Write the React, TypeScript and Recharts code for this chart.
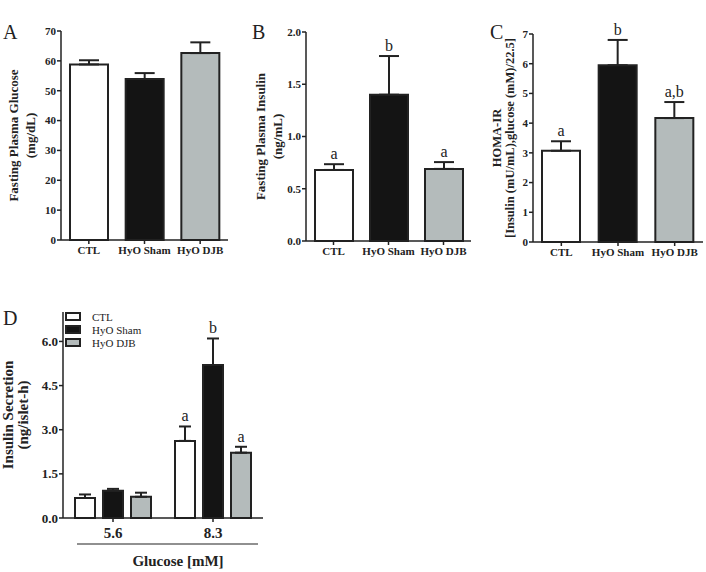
import React from "react";
import { BarChart, Bar, XAxis, YAxis, Cell, ErrorBar, LabelList, Legend } from "recharts";

const serif = '"Liberation Serif", "DejaVu Serif", serif';
const ink = "#222222";

const groups = ["CTL", "HyO Sham", "HyO DJB"];
const groupFills = ["#ffffff", "#141414", "#b4bbbb"];

// A: fasting plasma glucose (mg/dL)
const glucoseMean = [58.8, 53.9, 62.6];
const glucoseTop = [60.2, 55.9, 66.2];
const glucoseTicks = [0, 10, 20, 30, 40, 50, 60, 70];

// B: fasting plasma insulin (ng/mL)
const insulinMean = [0.68, 1.4, 0.69];
const insulinTop = [0.735, 1.77, 0.755];
const insulinLetters = ["a", "b", "a"];
const insulinTicks = [0, 0.5, 1, 1.5, 2];

// C: HOMA-IR
const homaMean = [3.07, 5.95, 4.17];
const homaTop = [3.39, 6.8, 4.71];
const homaLetters = ["a", "b", "a,b"];
const homaTicks = [0, 1, 2, 3, 4, 5, 6, 7];

// D: insulin secretion by glucose level
const glucoseLevels = ["5.6", "8.3"];
const secCtl = [0.68, 2.62];
const secCtlTop = [0.8, 3.11];
const secCtlLetters = ["", "a"];
const secSham = [0.93, 5.2];
const secShamTop = [0.99, 6.1];
const secShamLetters = ["", "b"];
const secDjb = [0.72, 2.22];
const secDjbTop = [0.86, 2.42];
const secDjbLetters = ["", "a"];
const secTicks = [0, 1.5, 3, 4.5, 6];

const simpleRows = (mean: number[], top: number[], letters?: string[]) =>
  groups.map((name, i) => ({
    name,
    value: mean[i],
    err: [0, top[i] - mean[i]],
    letter: letters ? letters[i] : "",
  }));

const secRows = glucoseLevels.map((g, i) => ({
  glucose: g,
  ctl: secCtl[i],
  ctlErr: [0, secCtlTop[i] - secCtl[i]],
  ctlL: secCtlLetters[i],
  sham: secSham[i],
  shamErr: [0, secShamTop[i] - secSham[i]],
  shamL: secShamLetters[i],
  djb: secDjb[i],
  djbErr: [0, secDjbTop[i] - secDjb[i]],
  djbL: secDjbLetters[i],
}));

function letterLabel(mean: number[], top: number[], fontSize: number) {
  return (p: any) => {
    const text = p.value;
    if (!text) return null;
    const i = p.index;
    const vb = p.viewBox && p.viewBox.width != null ? p.viewBox : p;
    const x = Number(vb.x) + Number(vb.width) / 2;
    const perUnit = Number(vb.height) / mean[i];
    const yTop = Number(vb.y) - (top[i] - mean[i]) * perUnit;
    return (
      <text x={x} y={yTop - 5} textAnchor="middle" fontFamily={serif} fontSize={fontSize} fill={ink}>
        {text}
      </text>
    );
  };
}

function yTitle(lines: string[], xs: number[], sizes: number[]) {
  return (p: any) => {
    const vb = p.viewBox;
    const cy = vb.y + vb.height / 2;
    return (
      <g>
        {lines.map((t, i) => (
          <text
            key={i}
            x={xs[i]}
            y={cy}
            transform={`rotate(-90 ${xs[i]} ${cy})`}
            textAnchor="middle"
            dominantBaseline="central"
            fontFamily={serif}
            fontWeight="bold"
            fontSize={sizes[i]}
            fill={ink}
          >
            {t}
          </text>
        ))}
      </g>
    );
  };
}

const tickStyle = (size: number) => ({ fill: ink, fontSize: size, fontWeight: "bold" as const, fontFamily: serif });

type PanelProps = {
  left: number;
  top: number;
  width: number;
  height: number;
  margin: { top: number; right: number; bottom: number; left: number };
  yWidth: number;
  mean: number[];
  topVals: number[];
  letters?: string[];
  ticks: number[];
  decimals: number;
  title: string[];
  titleX: number[];
  titleSize: number[];
};

function Panel(props: PanelProps) {
  const rows = simpleRows(props.mean, props.topVals, props.letters);
  const max = props.ticks[props.ticks.length - 1];
  return (
    <div style={{ position: "absolute", left: props.left, top: props.top }}>
      <BarChart width={props.width} height={props.height} data={rows} margin={props.margin}>
        <XAxis
          dataKey="name"
          interval={0}
          height={30}
          tickSize={4}
          tickMargin={2}
          tick={tickStyle(11)}
          axisLine={{ stroke: ink, strokeWidth: 1.5 }}
          tickLine={{ stroke: ink, strokeWidth: 1.5 }}
        />
        <YAxis
          width={props.yWidth}
          domain={[0, max]}
          ticks={props.ticks}
          tickSize={4}
          tickMargin={1}
          tickFormatter={(v: number) => v.toFixed(props.decimals)}
          tick={tickStyle(11)}
          axisLine={{ stroke: ink, strokeWidth: 1.5 }}
          tickLine={{ stroke: ink, strokeWidth: 1.5 }}
          label={yTitle(props.title, props.titleX, props.titleSize)}
        />
        <Bar dataKey="value" barSize={38} stroke={ink} strokeWidth={2} isAnimationActive={false}>
          {rows.map((r, i) => (
            <Cell key={r.name} fill={groupFills[i]} />
          ))}
          <ErrorBar dataKey="err" width={10} stroke={ink} strokeWidth={2} direction="y" />
          {props.letters && (
            <LabelList dataKey="letter" content={letterLabel(props.mean, props.topVals, 16)} />
          )}
        </Bar>
      </BarChart>
    </div>
  );
}

const legendContent = () => (
  <svg width={130} height={46} style={{ display: "block" }}>
    {groups.map((g, i) => (
      <g key={g}>
        <rect x={6} y={4 + i * 13} width={14} height={7} fill={groupFills[i]} stroke={ink} strokeWidth={2} />
        <text x={32} y={11.5 + i * 13} fontFamily={serif} fontSize={11} fill={ink}>
          {g}
        </text>
      </g>
    ))}
  </svg>
);

const glucoseAxisLabel = (p: any) => {
  const vb = p.viewBox;
  return (
    <g>
      <line x1={vb.x + 14} x2={vb.x + 195} y1={vb.y + 26} y2={vb.y + 26} stroke={ink} strokeWidth={1.2} />
      <text x={vb.x + 115} y={vb.y + 48} textAnchor="middle" fontFamily={serif} fontWeight="bold" fontSize={15} fill={ink}>
        Glucose [mM]
      </text>
    </g>
  );
};

function PanelD() {
  const series = [
    { key: "ctl", err: "ctlErr", lab: "ctlL", mean: secCtl, top: secCtlTop },
    { key: "sham", err: "shamErr", lab: "shamL", mean: secSham, top: secShamTop },
    { key: "djb", err: "djbErr", lab: "djbL", mean: secDjb, top: secDjbTop },
  ];
  return (
    <div style={{ position: "absolute", left: 0, top: 300 }}>
      <BarChart
        width={300}
        height={272}
        data={secRows}
        margin={{ top: 12, right: 37, bottom: 0, left: 0 }}
        barSize={20}
        barGap={8}
      >
        <XAxis
          dataKey="glucose"
          interval={0}
          height={54}
          tickSize={4}
          tickMargin={5}
          tick={tickStyle(15)}
          axisLine={{ stroke: ink, strokeWidth: 1.5 }}
          tickLine={{ stroke: ink, strokeWidth: 1.5 }}
          label={glucoseAxisLabel}
        />
        <YAxis
          width={63}
          domain={[0, 7]}
          ticks={secTicks}
          tickSize={4}
          tickMargin={1}
          tickFormatter={(v: number) => v.toFixed(1)}
          tick={tickStyle(13)}
          axisLine={{ stroke: ink, strokeWidth: 1.5 }}
          tickLine={{ stroke: ink, strokeWidth: 1.5 }}
          label={yTitle(["Insulin Secretion", "(ng/islet-h)"], [8, 23], [15, 15])}
        />
        <Legend
          layout="vertical"
          align="center"
          verticalAlign="middle"
          wrapperStyle={{ left: 60, top: 9, width: 130, height: 46 }}
          content={legendContent}
        />
        {series.map((s, i) => (
          <Bar
            key={s.key}
            dataKey={s.key}
            name={groups[i]}
            fill={groupFills[i]}
            stroke={ink}
            strokeWidth={2}
            isAnimationActive={false}
          >
            <ErrorBar dataKey={s.err} width={6} stroke={ink} strokeWidth={2} direction="y" />
            <LabelList dataKey={s.lab} content={letterLabel(s.mean, s.top, 16)} />
          </Bar>
        ))}
      </BarChart>
    </div>
  );
}

const letterStyle = (left: number, top: number): React.CSSProperties => ({
  position: "absolute",
  left,
  top,
  fontFamily: serif,
  fontSize: 20,
  lineHeight: "20px",
  color: ink,
});

export default function App() {
  return (
    <div style={{ position: "absolute", left: 0, top: 0, width: 706, height: 572, background: "#fff", fontFamily: serif }}>
      <Panel
        left={0}
        top={0}
        width={240}
        height={272}
        margin={{ top: 31, right: 12, bottom: 2, left: 0 }}
        yWidth={61}
        mean={glucoseMean}
        topVals={glucoseTop}
        ticks={glucoseTicks}
        decimals={0}
        title={["Fasting Plasma Glucose", "(mg/dL)"]}
        titleX={[13, 30]}
        titleSize={[13, 13]}
      />
      <Panel
        left={240}
        top={0}
        width={235}
        height={272}
        margin={{ top: 32, right: 4, bottom: 1, left: 0 }}
        yWidth={66}
        mean={insulinMean}
        topVals={insulinTop}
        letters={insulinLetters}
        ticks={insulinTicks}
        decimals={1}
        title={["Fasting Plasma Insulin", "(ng/mL)"]}
        titleX={[20, 37]}
        titleSize={[13, 13]}
      />
      <Panel
        left={475}
        top={0}
        width={231}
        height={272}
        margin={{ top: 34, right: 3, bottom: 0, left: 0 }}
        yWidth={58}
        mean={homaMean}
        topVals={homaTop}
        letters={homaLetters}
        ticks={homaTicks}
        decimals={0}
        title={["HOMA-IR", "[Insulin (mU/mL),glucose (mM)/22.5]"]}
        titleX={[22, 35]}
        titleSize={[12.5, 12.5]}
      />
      <PanelD />
      <div style={letterStyle(3, 22)}>A</div>
      <div style={letterStyle(252, 22)}>B</div>
      <div style={letterStyle(490, 22)}>C</div>
      <div style={letterStyle(3, 308)}>D</div>
    </div>
  );
}
